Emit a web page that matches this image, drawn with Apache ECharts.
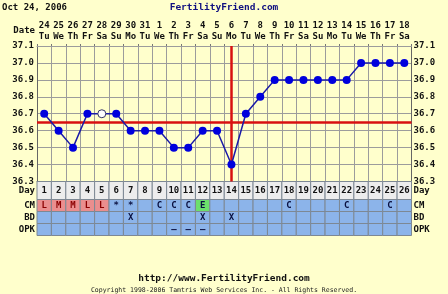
<!DOCTYPE html>
<html>
<head>
<meta charset="utf-8">
<script src="https://cdn.jsdelivr.net/npm/echarts@6/dist/echarts.min.js"></script>
<style>
  html, body { margin: 0; padding: 0; background: #FFFFCC; }
  #chart { width: 448px; height: 294px; }
</style>
</head>
<body>
<div id="chart"></div>
<script>
// ---- data ----
const days = ['1','2','3','4','5','6','7','8','9','10','11','12','13','14','15','16','17','18','19','20','21','22','23','24','25','26'];
const dates = ['24','25','26','27','28','29','30','31','1','2','3','4','5','6','7','8','9','10','11','12','13','14','15','16','17','18'];
const weekdays = ['Tu','We','Th','Fr','Sa','Su','Mo','Tu','We','Th','Fr','Sa','Su','Mo','Tu','We','Th','Fr','Sa','Su','Mo','Tu','We','Th','Fr','Sa'];
const temps = [36.7,36.6,36.5,36.7,36.7,36.7,36.6,36.6,36.6,36.5,36.5,36.6,36.6,36.4,36.7,36.8,36.9,36.9,36.9,36.9,36.9,36.9,37.0,37.0,37.0,37.0];
const discarded = ['5'];
const coverline = 36.65;
const ovulationDay = '14';
const tempTicks = { min: 36.3, max: 37.1, step: 0.1 };
const cm  = ['L','M','M','L','L','*','*','','C','C','C','E','','','','','','C','','','','C','','','C',''];
const bd  = ['','','','','','','X','','','','','X','','X','','','','','','','','','','','',''];
const opk = ['','','','','','','','','','\u2013','\u2013','\u2013','','','','','','','','','','','','','',''];
const rowNames = ['CM','BD','OPK'];

// ---- styles ----
const FONT = 'DejaVu Sans Mono';
const BG = '#FFFFCC';
const GRIDC = '#9c9c9c';
const cellFill = { L: '#EA8E8E', M: '#EA8E8E', E: '#6CE06C' };
const BLUE = '#8CB4EA';

const L = 37, R = 36.5;

const tableData = [];
[cm, bd, opk].forEach((row, r) => {
  row.forEach((t, i) => tableData.push([i, r, t]));
});
const dayData = days.map((d, i) => [i, 0, d]);

function cellRender(fillFn, textColorFn) {
  return function (params, api) {
    const x = api.value(0), y = api.value(1);
    const t = tableData.length && params.seriesName === 'table' ? tableData[params.dataIndex][2] : dayData[params.dataIndex][2];
    const c = api.coord([x, y]);
    const s = api.size([1, 1]);
    return {
      type: 'group',
      children: [
        { type: 'rect',
          shape: { x: c[0] - s[0] / 2, y: c[1] - s[1] / 2, width: s[0], height: s[1] },
          style: { fill: fillFn(t), stroke: '#7d8894', lineWidth: 1 } },
        { type: 'text', x: c[0], y: c[1] + 0.5,
          style: { text: t, align: 'center', verticalAlign: 'middle',
                   font: 'bold 9px "' + FONT + '"', fill: textColorFn(t) } }
      ]
    };
  };
}

const labelStyle = { fontFamily: FONT, fontWeight: 'bold', fontSize: 9, color: '#111' };

const option = {
  backgroundColor: BG,
  animation: false,
  grid: [
    { left: L, right: R, top: 46, height: 135.5 },
    { left: L, right: R, top: 181.5, height: 18 },
    { left: L, right: R, top: 199.5, height: 36 }
  ],
  xAxis: [
    { gridIndex: 0, type: 'category', data: days, boundaryGap: true,
      axisLabel: { show: false }, axisTick: { show: false },
      axisLine: { show: true, lineStyle: { color: '#777', width: 1 } },
      splitLine: { show: true, interval: 0, lineStyle: { color: GRIDC, width: 1 } } },
    { gridIndex: 0, type: 'category', data: dates, position: 'top', boundaryGap: true,
      axisLine: { show: true, lineStyle: { color: GRIDC } },
      axisTick: { show: true, interval: 0, length: 2, lineStyle: { color: '#777' } },
      axisLabel: { interval: 0, margin: 4,
        formatter: (v, i) => '{d|' + v + '}\n{w|' + weekdays[i] + '}',
        rich: {
          d: { fontFamily: FONT, fontWeight: 'bold', fontSize: 9, lineHeight: 11, color: '#111' },
          w: { fontFamily: FONT, fontWeight: 'bold', fontSize: 9, lineHeight: 11, color: '#111' }
        } } },
    { gridIndex: 1, type: 'category', data: days, show: false },
    { gridIndex: 2, type: 'category', data: days, show: false }
  ],
  yAxis: [
    { gridIndex: 0, type: 'value', min: tempTicks.min, max: tempTicks.max, interval: tempTicks.step,
      axisLabel: Object.assign({ margin: 3, formatter: v => v.toFixed(1) }, labelStyle),
      axisLine: { show: true, lineStyle: { color: '#666' } }, axisTick: { show: false },
      splitLine: { show: true, lineStyle: { color: GRIDC } } },
    { gridIndex: 0, type: 'value', position: 'right', min: tempTicks.min, max: tempTicks.max, interval: tempTicks.step,
      axisLabel: Object.assign({ margin: 2, formatter: v => v.toFixed(1) }, labelStyle),
      axisLine: { show: true, lineStyle: { color: '#666' } }, axisTick: { show: false },
      splitLine: { show: false } },
    { gridIndex: 1, type: 'category', data: ['Day'],
      axisLine: { show: false }, axisTick: { show: false },
      axisLabel: Object.assign({ margin: 2 }, labelStyle) },
    { gridIndex: 1, type: 'category', data: ['Day'], position: 'right',
      axisLine: { show: false }, axisTick: { show: false },
      axisLabel: Object.assign({ margin: 2 }, labelStyle) },
    { gridIndex: 2, type: 'category', data: rowNames, inverse: true,
      axisLine: { show: false }, axisTick: { show: false },
      axisLabel: Object.assign({ margin: 2 }, labelStyle) },
    { gridIndex: 2, type: 'category', data: rowNames, inverse: true, position: 'right',
      axisLine: { show: false }, axisTick: { show: false },
      axisLabel: Object.assign({ margin: 2 }, labelStyle) }
  ],
  series: [
    { name: 'lines', type: 'line', xAxisIndex: 0, yAxisIndex: 0, data: temps,
      symbol: 'none', lineStyle: { width: 0, opacity: 0 }, silent: true, z: 1,
      markLine: { silent: true, symbol: ['none', 'none'], label: { show: false },
        lineStyle: { color: '#D81010', width: 2.5, type: 'solid' },
        data: [{ yAxis: coverline }, { xAxis: ovulationDay }] } },
    { name: 'temp', type: 'line', xAxisIndex: 0, yAxisIndex: 0, z: 5,
      data: temps.map((t, i) => discarded.includes(days[i])
        ? { value: t, itemStyle: { color: '#FFFFFF', borderColor: '#333366', borderWidth: 1 } }
        : t),
      symbol: 'circle', symbolSize: 8, showAllSymbol: true,
      itemStyle: { color: '#0000DD', borderWidth: 0 },
      lineStyle: { color: '#1A1AA8', width: 1.5 } },
    { name: 'days', type: 'custom', xAxisIndex: 2, yAxisIndex: 2, data: dayData,
      renderItem: cellRender(() => '#EDEDED', () => '#111') },
    { name: 'table', type: 'custom', xAxisIndex: 3, yAxisIndex: 4, data: tableData,
      renderItem: cellRender(t => cellFill[t] || BLUE, t => (t === 'L' || t === 'M') ? '#8A0000' : '#0A1040') }
  ],
  graphic: [
    { type: 'text', x: 2, y: 7.5, style: { text: 'Oct 24, 2006', align: 'left', verticalAlign: 'middle', font: 'bold 9px "' + FONT + '"', fill: '#111' } },
    { type: 'text', x: 224, y: 7.5, style: { text: 'FertilityFriend.com', align: 'center', verticalAlign: 'middle', font: 'bold 9.5px "' + FONT + '"', fill: '#101080' } },
    { type: 'text', x: 35, y: 31, style: { text: 'Date', align: 'right', verticalAlign: 'middle', font: 'bold 9px "' + FONT + '"', fill: '#111' } },
    { type: 'text', x: 224, y: 279, style: { text: 'http://www.FertilityFriend.com', align: 'center', verticalAlign: 'middle', font: 'bold 9.5px "' + FONT + '"', fill: '#111' } },
    { type: 'text', x: 224, y: 290.5, style: { text: 'Copyright 1998-2006 Tamtris Web Services Inc. - All Rights Reserved.', align: 'center', verticalAlign: 'middle', font: '6.5px "' + FONT + '"', fill: '#222' } }
  ]
};

const chart = echarts.init(document.getElementById('chart'), null, { renderer: 'canvas' });
chart.setOption(option);
</script>
</body>
</html>
